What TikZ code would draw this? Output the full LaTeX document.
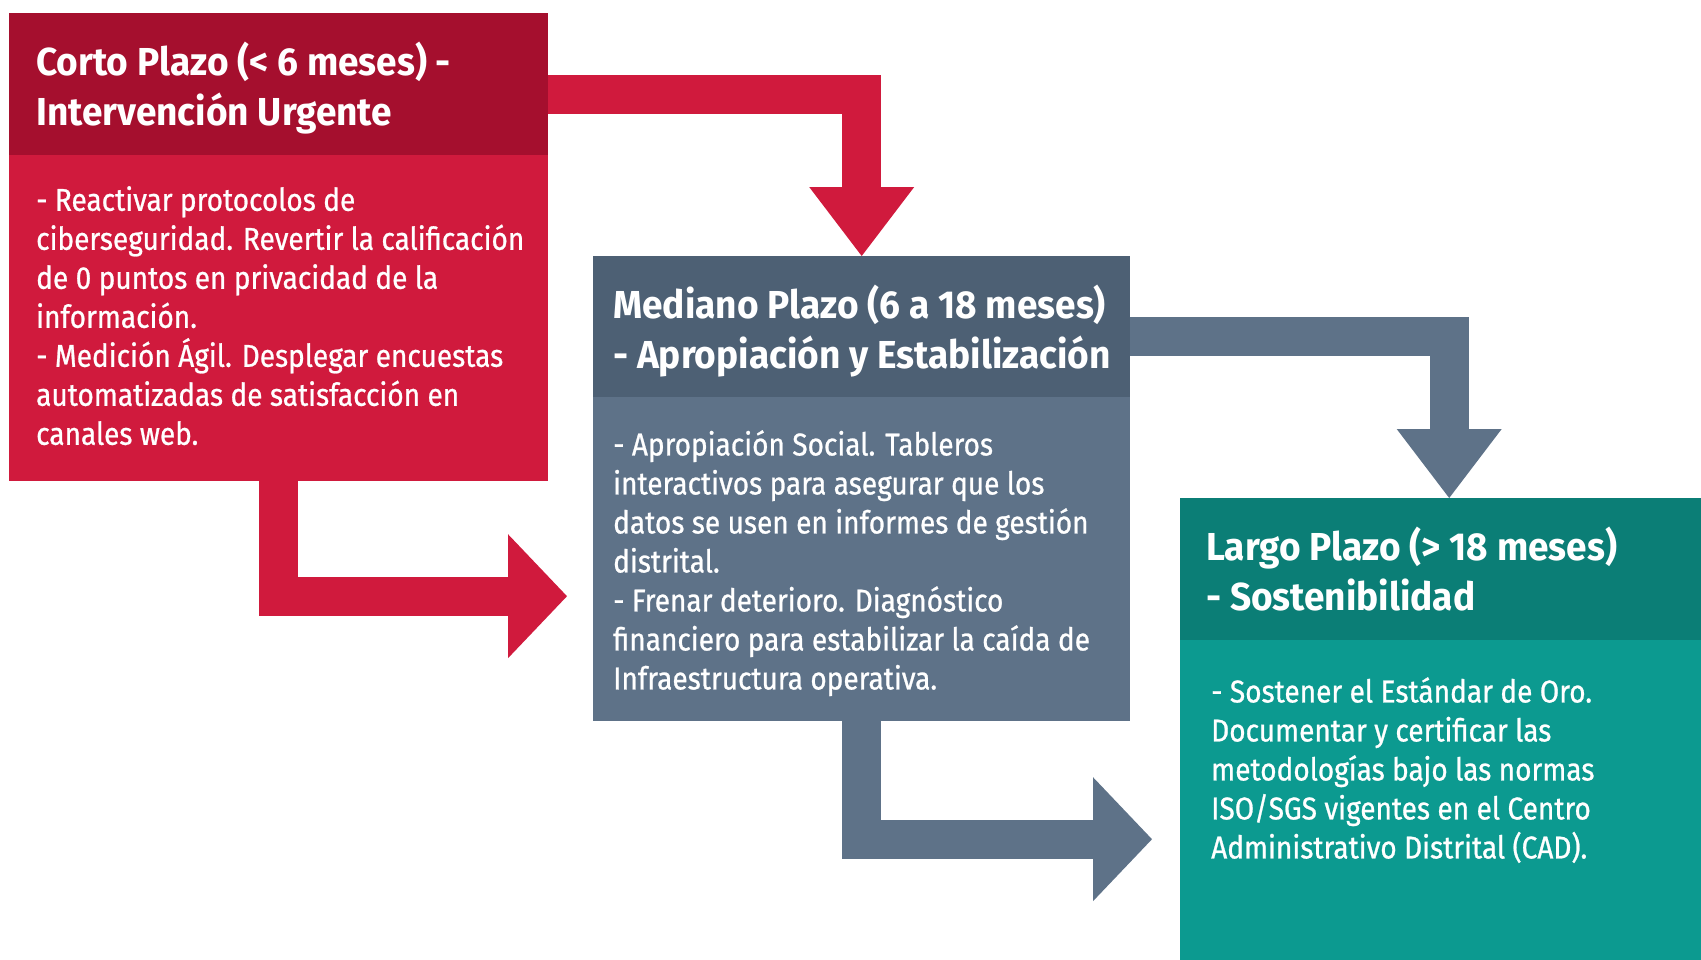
\documentclass[tikz,border=0pt]{standalone}
\usepackage{fontspec}
\setmainfont{Fira Sans}[FakeStretch=0.89, FakeBold=0.8]
\newfontfamily\titlefont{Fira Sans}[FakeStretch=0.95]
\usetikzlibrary{arrows.meta,positioning}

\definecolor{cortoHead}{HTML}{A50F2E}
\definecolor{cortoBody}{HTML}{D01A3D}
\definecolor{medianoHead}{HTML}{4D6074}
\definecolor{medianoBody}{HTML}{5E7288}
\definecolor{largoHead}{HTML}{0B7E76}
\definecolor{largoBody}{HTML}{0C9A90}

\begin{document}
\begin{tikzpicture}[x=1pt, y=-1pt,
    panel/.style={rectangle, inner sep=0pt, anchor=north west},
    headtext/.style={anchor=north west, inner sep=0pt, text=white, align=left,
        font=\titlefont\bfseries\fontsize{39}{50}\selectfont},
    bodytext/.style={anchor=north west, inner sep=0pt, text=white, align=left,
        font=\fontsize{31.5}{39}\selectfont},
    flow/.style={line width=39pt},
    downtip/.style={-{Triangle[length=69pt, width=105pt, line width=0pt]}},
    righttip/.style={-{Triangle[length=59pt, width=124pt, line width=0pt]}}]

\useasboundingbox[fill=white] (0,0) rectangle (1701,959);

% cajas
\node[panel, fill=cortoBody, minimum width=539pt, minimum height=468pt] (corto) at (9,13) {};
\node[panel, fill=cortoHead, minimum width=539pt, minimum height=142pt] (cortoHead) at (9,13) {};

\node[panel, fill=medianoBody, minimum width=537pt, minimum height=465pt] (mediano) at (593,256) {};
\node[panel, fill=medianoHead, minimum width=537pt, minimum height=141pt] (medianoHead) at (593,256) {};

\node[panel, fill=largoBody, minimum width=538pt, minimum height=470pt] (largo) at (1180,498) {};
\node[panel, fill=largoHead, minimum width=538pt, minimum height=142pt] (largoHead) at (1180,498) {};

% textos
\node[headtext] (cortoTitle) at (36,42) {Corto Plazo (< 6 meses) -\\Intervención Urgente};
\node[bodytext] (cortoText) at (36,186) {- Reactivar protocolos de\\
    ciberseguridad. Revertir la calificación\\
    de 0 puntos en privacidad de la\\
    información.\\
    - Medición Ágil. Desplegar encuestas\\
    automatizadas de satisfacción en\\
    canales web.};

\node[headtext] (medianoTitle) at (613,285) {Mediano Plazo (6 a 18 meses)\\- Apropiación y Estabilización};
\node[bodytext] (medianoText) at (613,430) {- Apropiación Social. Tableros\\
    interactivos para asegurar que los\\
    datos se usen en informes de gestión\\
    distrital.\\
    - Frenar deterioro. Diagnóstico\\
    financiero para estabilizar la caída de\\
    Infraestructura operativa.};

\node[headtext] (largoTitle) at (1206,527) {Largo Plazo (> 18 meses)\\- Sostenibilidad};
\node[bodytext] (largoText) at (1211,677) {- Sostener el Estándar de Oro.\\
    Documentar y certificar las\\
    metodologías bajo las normas\\
    ISO/SGS vigentes en el Centro\\
    Administrativo Distrital (CAD).};

% flechas
\draw[flow, draw=cortoBody, downtip] ([yshift=-81.5pt]corto.north east) -| (mediano.north);
\draw[flow, draw=cortoBody, righttip, shorten >=26pt] (corto.south) |- ([yshift=-107.5pt]mediano.west);
\draw[flow, draw=medianoBody, downtip] ([yshift=152.5pt]mediano.east) -| (largo.north);
\draw[flow, draw=medianoBody, righttip, shorten >=28pt] (mediano.south) |- ([yshift=-106pt]largo.west);
\end{tikzpicture}
\end{document}
